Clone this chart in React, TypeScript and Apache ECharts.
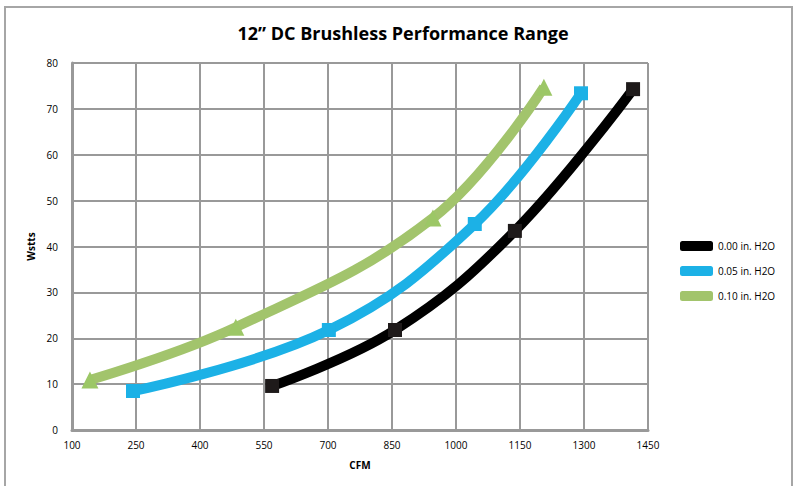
import React, { useEffect, useRef } from "react";
import * as echarts from "echarts";

const title = "12\u201d DC Brushless Performance Range";
const seriesNames = ["0.00 in. H2O", "0.05 in. H2O", "0.10 in. H2O"];
const seriesColors = ["#000000", "#1CB1E6", "#A2C46C"];
const seriesSymbols = ["rect", "rect", "triangle"];
const cfm000 = [569, 857, 1138, 1415];
const watts000 = [9.6, 21.8, 43.4, 74.3];
const cfm005 = [243, 702, 1044, 1293];
const watts005 = [8.5, 21.8, 44.9, 73.4];
const cfm010 = [142, 484, 946, 1206];
const watts010 = [10.9, 22.4, 46.2, 74.7];
const xs = [cfm000, cfm005, cfm010];
const ys = [watts000, watts005, watts010];

export default function App() {
  const ref = useRef<HTMLDivElement>(null);
  useEffect(() => {
    document.body.style.margin = "0";
    const chart = echarts.init(ref.current!, null, { renderer: "svg" });
    const font = "'Open Sans', 'Liberation Sans', sans-serif";
    chart.setOption({
      animation: false,
      textStyle: { fontFamily: font },
      graphic: [
        {
          type: "rect",
          shape: { x: 5, y: 7, width: 787, height: 500 },
          style: { fill: "none", stroke: "#a6a6a6", lineWidth: 2 },
          silent: true,
        },
      ],
      title: {
        text: title,
        left: 398,
        top: 19,
        textAlign: "center",
        textStyle: { fontSize: 18, fontWeight: "bold", color: "#000", fontFamily: font },
      },
      grid: { left: 72, top: 63, right: 151, bottom: 56 },
      legend: {
        orient: "vertical",
        left: 675,
        top: 236,
        itemWidth: 33,
        itemHeight: 10,
        itemGap: 15,
        icon: "roundRect",
        textStyle: { fontSize: 10, color: "#000", fontFamily: font },
        data: seriesNames.map((n, i) => ({ name: n, itemStyle: { color: seriesColors[i] } })),
      },
      xAxis: {
        type: "value",
        min: 100,
        max: 1450,
        interval: 150,
        name: "CFM",
        nameLocation: "middle",
        nameGap: 30,
        nameTextStyle: { fontSize: 10, fontWeight: "bold", color: "#000" },
        axisLine: { lineStyle: { color: "#999", width: 3 } },
        axisTick: { show: false },
        axisLabel: { fontSize: 10, color: "#000", margin: 10, formatter: (v: number) => String(v) },
        splitLine: { show: true, lineStyle: { color: "#999", width: 2 } },
      },
      yAxis: {
        type: "value",
        min: 0,
        max: 80,
        interval: 10,
        name: "Wstts",
        nameLocation: "middle",
        nameGap: 29,
        nameRotate: 90,
        nameTextStyle: { fontSize: 10, fontWeight: "bold", color: "#000" },
        axisLine: { show: true, lineStyle: { color: "#999", width: 3 } },
        axisTick: { show: false },
        axisLabel: { fontSize: 10, color: "#000", margin: 14 },
        splitLine: { show: true, lineStyle: { color: "#999", width: 2 } },
      },
      series: seriesNames.map((n, i) => ({
        name: n,
        type: "line",
        smooth: 0.4,
        data: xs[i].map((x, j) => [x, ys[i][j]]),
        symbol: seriesSymbols[i],
        symbolSize: i === 2 ? 17 : 14,
        showAllSymbol: true,
        lineStyle: { color: seriesColors[i], width: 10 },
        itemStyle: { color: i === 0 ? "#1e1a1a" : i === 2 ? "#9CC766" : seriesColors[i] },
        z: 3 - i,
      })),
    });
    return () => chart.dispose();
  }, []);
  return <div ref={ref} style={{ width: 799, height: 486 }} />;
}
